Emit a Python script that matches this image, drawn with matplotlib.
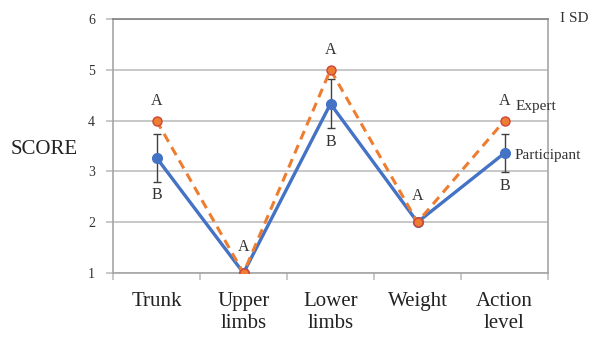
import matplotlib
matplotlib.use("Agg")
import matplotlib.pyplot as plt
import numpy as np

categories = ["Trunk", "Upper\nlimbs", "Lower\nlimbs", "Weight", "Action\nlevel"]
expert = [4.0, 1.0, 5.0, 2.0, 4.0]
participant = [3.27, 1.0, 4.33, 2.0, 3.36]
participant_sd = [0.47, 0.0, 0.48, 0.0, 0.38]
expert_letters = ["A", "A", "A", "A", "A"]
participant_letters = ["B", None, "B", None, "B"]
yticks = [1, 2, 3, 4, 5, 6]

plt.rcParams['font.family'] = ['Liberation Serif', 'DejaVu Serif']

fig = plt.figure(figsize=(5.95, 3.4), dpi=100)
ax = fig.add_axes([113/595, 1 - 273/340, 435/595, 254/340])

x = np.arange(len(categories))
blue = '#4472C4'
orange = '#ED7D31'

ax.errorbar(x, participant, yerr=participant_sd, fmt='none', ecolor='#404040',
            elinewidth=1.0, capsize=3, capthick=1.0, zorder=3)
ax.plot(x, participant, color=blue, lw=2.4, marker='o', ms=7, zorder=4)
ax.plot(x, expert, color=orange, lw=2.2, ls=(0, (3, 2)), marker='o', ms=6.5,
        markerfacecolor=orange, markeredgecolor='#D0453A', markeredgewidth=1.0, zorder=5)

for i, (xv, ev) in enumerate(zip(x, expert)):
    dy = 14 if participant_sd[i] > 0 else 19
    ax.annotate(expert_letters[i], (xv, ev), xytext=(0, dy), textcoords='offset points',
                ha='center', va='center', fontsize=11.5, color='#333333')
for i, (xv, pv) in enumerate(zip(x, participant)):
    if participant_letters[i]:
        ax.annotate(participant_letters[i], (xv, pv - participant_sd[i]), xytext=(0, -10),
                    textcoords='offset points', ha='center', va='center', fontsize=11.5,
                    color='#333333')

ax.annotate("Expert", (x[-1], expert[-1]), xytext=(8, 10), textcoords='offset points',
            ha='left', va='center', fontsize=11, color='#333333')
ax.annotate("Participant", (x[-1], participant[-1]), xytext=(7, -2), textcoords='offset points',
            ha='left', va='center', fontsize=11, color='#333333')

ax.set_xlim(-0.5, len(categories) - 0.5)
ax.set_ylim(1, 6)
ax.set_yticks(yticks)
ax.set_yticklabels([str(t) for t in yticks], fontsize=10, color='#333333')
ax.set_xticks(x)
ax.set_xticklabels(categories, fontsize=15, color='#222222', linespacing=1.2)
ax.set_xticks(np.arange(-0.5, len(categories)), minor=True)
ax.tick_params(axis='x', which='major', length=0, pad=14)
ax.tick_params(axis='x', which='minor', length=5, color='#BFBFBF', width=1.2, direction='out')
ax.tick_params(axis='y', length=5, color='#BFBFBF', width=1.2, direction='out', pad=8)

ax.grid(axis='y', color='#BFBFBF', lw=1.2, zorder=0)
ax.set_axisbelow(True)
for s in ['left', 'right', 'bottom', 'top']:
    ax.spines[s].set_color('#A6A6A6')
    ax.spines[s].set_linewidth(1.2)
ax.spines['top'].set_color('#808080')

fig.text(44/595, 1 - 150/340, "SCORE", ha='center', va='center', fontsize=15, color='#222222')
fig.text(560/595, 1 - 18/340, "I SD", ha='left', va='center', fontsize=11, color='#333333')

fig.savefig("out.png", dpi=100)
